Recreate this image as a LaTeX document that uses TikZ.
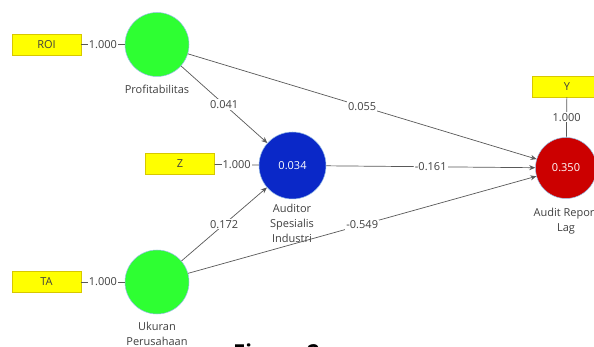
\documentclass[tikz,border=0pt]{standalone}
\usepackage{fontspec}
\setmainfont{Open Sans}
\usetikzlibrary{arrows.meta}
\definecolor{lvgreen}{RGB}{46,255,50}
\definecolor{lvblue}{RGB}{10,40,200}
\definecolor{lvred}{RGB}{204,0,0}
\definecolor{indyel}{RGB}{255,255,0}
\definecolor{indedge}{RGB}{215,200,0}
\definecolor{txtgray}{RGB}{64,64,64}
\definecolor{rimblue}{RGB}{150,190,230}
\begin{document}
\begin{tikzpicture}[x=1pt,y=-1pt,
  indbox/.style={rectangle, draw=indedge, fill=indyel, minimum width=69pt, minimum height=21pt, inner sep=0pt, font=\fontsize{11}{13}\selectfont, text=txtgray},
  latent/.style={circle, draw=rimblue, line width=0.5pt, inner sep=0pt, font=\fontsize{11}{13}\selectfont, text=white},
  wlab/.style={fill=white, inner sep=1pt, font=\fontsize{11}{13}\selectfont, text=txtgray},
  namelab/.style={inner sep=0pt, font=\fontsize{11}{15}\selectfont, text=txtgray, align=center},
  link/.style={draw=black!65, line width=0.7pt},
  pathar/.style={draw=black!65, line width=0.7pt, -{Stealth[length=6pt,width=5pt]}}
]
\useasboundingbox (0,0) rectangle (594,347);
\clip (0,0) rectangle (594,347);
\fill[white] (0,0) rectangle (594,347);

% latent variables
\node[latent, fill=lvgreen, minimum size=64pt] (prof) at (157,44.5) {};
\node[latent, fill=lvgreen, minimum size=64pt] (uk) at (157,282) {};
\node[latent, fill=lvblue, minimum size=67pt] (asi) at (292.5,165.5) {0.034};
\node[latent, fill=lvred, minimum size=61pt] (arl) at (566,168) {0.350};

% indicators
\node[indbox] (roi) at (46.5,44.5) {ROI};
\node[indbox] (z) at (180,164) {Z};
\node[indbox] (ta) at (46.5,282) {TA};
\node[indbox] (y) at (567,86.5) {Y};

% names
\node[namelab] (proflab) at (157,89) {Profitabilitas};
\node[namelab] (asilab) at (292,223) {Auditor\\Spesialis\\Industri};
\node[namelab] (uklab) at (157,333.5) {Ukuran\\Perusahaan};
\node[namelab] (arllab) at (566,221.5) {Audit Report\\Lag};

% outer loadings
\draw[link] (roi) -- node[wlab] {1.000} (prof);
\draw[link] (z) -- node[wlab] {1.000} (asi);
\draw[link] (ta) -- node[wlab] {1.000} (uk);
\draw[link] (y) -- node[wlab] {1.000} (arl);

% path coefficients
\draw[pathar] (prof) -- node[wlab] {0.041} (asi);
\draw[pathar] (prof) -- node[wlab] {0.055} (arl);
\draw[pathar] (asi) -- node[wlab] {-0.161} (arl);
\draw[pathar] (uk) -- node[wlab] {0.172} (asi);
\draw[pathar] (uk) -- node[wlab] {-0.549} (arl);

% caption (cut off at the bottom)
\node[anchor=base west, inner sep=0pt, font=\bfseries\fontsize{22}{24}\selectfont] (fig) at (233,360) {Figure 2};
\end{tikzpicture}
\end{document}
